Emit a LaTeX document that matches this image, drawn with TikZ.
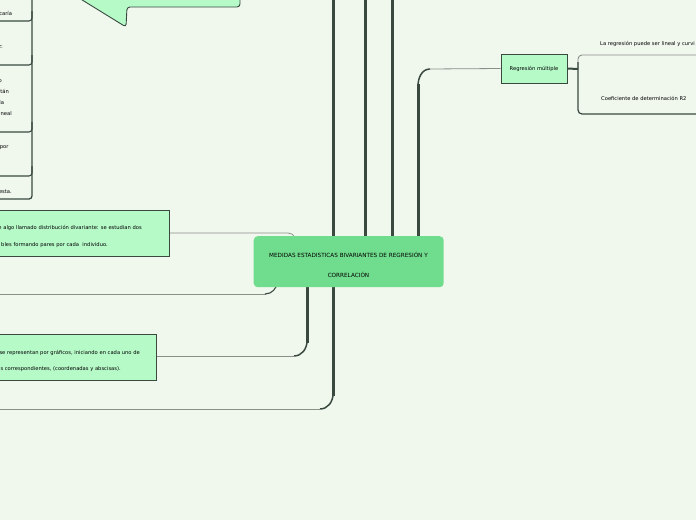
\documentclass[tikz,border=0pt]{standalone}
\usepackage{fontspec}
\setmainfont{DejaVu Sans}
\definecolor{bg}{HTML}{F0F8EE}
\definecolor{lite}{HTML}{B6FAC8}
\definecolor{mid}{HTML}{70DC8D}
\definecolor{dk}{HTML}{3A4940}
\definecolor{thn}{HTML}{8A8F8A}
\pgfdeclarelayer{back}
\pgfsetlayers{back,main}
\begin{document}
\begin{tikzpicture}[x=1pt,y=-1pt,
  txt/.style={font=\fontsize{5.2}{6}\selectfont, inner sep=0pt, text=black},
  captxt/.style={font=\fontsize{5.7}{6}\selectfont, inner sep=0pt, text=black},
  lbox/.style={draw=dk, line width=0.9pt, fill=lite, inner sep=0pt},
  thickc/.style={draw=dk, line width=3pt},
  midc/.style={draw=dk, line width=1.5pt},
  thinc/.style={draw=thn, line width=0.8pt},
  under/.style={draw=dk, line width=1.1pt, rounded corners=3pt}]
\useasboundingbox (0,0) rectangle (696,520);

% central node
\node[fill=mid, rounded corners=4pt, minimum width=190pt, minimum height=51pt, inner sep=0pt, anchor=north west] (c) at (253.5,236) {};
\node[captxt, anchor=base] (ct1) at (348.5,257) {MEDIDAS ESTADISTICAS BIVARIANTES DE REGRESIÓN Y};
\node[captxt, anchor=base] (ct2) at (348.5,277) {CORRELACIÓN};

% left boxes
\node[lbox, anchor=north east, minimum width=200pt, minimum height=46pt] (d1) at (170,210) {};
\node[txt, anchor=base east] (d1a) at (142,229.5) {e algo llamado distribución divariante: se estudian dos};
\node[txt, anchor=base east] (d1b) at (108,246.5) {bles formando pares por cada\ \ individuo.};

\node[lbox, anchor=north east, minimum width=200pt, minimum height=46pt] (d2) at (157,334) {};
\node[txt, anchor=base east] (d2a) at (140,354.5) {se representan por gráficos, iniciando en cada uno de};
\node[txt, anchor=base east] (d2b) at (121,370.5) {s correspondientes, (coordenadas y abscisas).};

% Regresion multiple
\node[lbox, minimum width=66pt, minimum height=29pt, txt] (rm) at (534,68.5) {Regresión múltiple};
\node[txt, anchor=base west] (lr) at (600,45.5) {La regresión puede ser lineal y curvi};
\node[txt, anchor=base west] (cd) at (601,100.5) {Coeficiente de determinación R2};

% left column fragments
\node[txt, anchor=base east] (f1) at (12.3,15.5) {caría};
\node[txt, anchor=base east] (f2) at (3,48.5) {z:};
\node[txt, anchor=base east] (f3) at (2,82.2) {o};
\node[txt, anchor=base east] (f4) at (9,93.2) {tán};
\node[txt, anchor=base east] (f5) at (4.3,104.2) {la};
\node[txt, anchor=base east] (f6) at (12,115.2) {ineal};
\node[txt, anchor=base east] (f7) at (8.7,148.2) {por};
\node[txt, anchor=base east] (f8) at (12,193.2) {esta.};

% callout at top
\draw[dk, line width=0.9pt, fill=lite, rounded corners=3pt]
  (66,-10) -- (126,27) -- (127,7) -- (240,7) -- (240,-10) -- cycle;

\coordinate (t1) at (333,-5);
\coordinate (t2) at (365,-5);
\coordinate (t3) at (392,-5);
\coordinate (lo1) at (-5,294);
\coordinate (lo2) at (-5,409);

\begin{pgfonlayer}{back}
\fill[bg] (0,0) rectangle (696,520);
% upward lines
\draw[thickc] (c.center -| t1) -- (t1);
\draw[thickc] (c.center -| t2) -- (t2);
\draw[thickc] (c.center -| t3) -- (t3);
% to Regresion multiple
\draw[thickc] (418,261) -- (418,84);
\draw[midc] (418,86) to[out=90,in=180] (430,69);
\draw[thinc] (429,69) -- (rm.west);
% down lines
\draw[thickc] (307,261) -- (307,343);
\draw[midc] (307,341) to[out=-90,in=0] (294,356);
\draw[thinc] (295,356) -- (d2.east |- 0,356);
\draw[thickc] (333,261) -- (333,396);
\draw[midc] (333,394) to[out=-90,in=0] (320,409);
\draw[thinc] (321,409) -- (lo2);
% left connectors
\draw[thinc] (d1.east |- 0,233) -- (288,233) to[out=0,in=90] (297,245);
\draw[thinc] (lo1) -- (266,294);
\draw[midc, line width=1.1pt] (265,294) to[out=0,in=-90] (277,282);
% right bracket
\draw[dk, line width=2pt] (rm.east) -- (578,69);
\draw[thn, line width=0.9pt, rounded corners=4pt] (700,55) -- (578,55) -- (578,69);
\draw[dk, line width=1.2pt, rounded corners=4pt] (578,62) -- (578,114) -- (700,114);
% left column bracket
\draw[dk, line width=1.3pt, rounded corners=3pt] (32,-5) -- (32,199) -- (-5,199);
\draw[under] (-5,21) -- (32,21) -- (32,11);
\draw[under] (-5,65) -- (32,65) -- (32,55);
\draw[under] (-5,132) -- (32,132) -- (32,122);
\draw[under] (-5,176) -- (32,176) -- (32,166);
\end{pgfonlayer}
\end{tikzpicture}
\end{document}
